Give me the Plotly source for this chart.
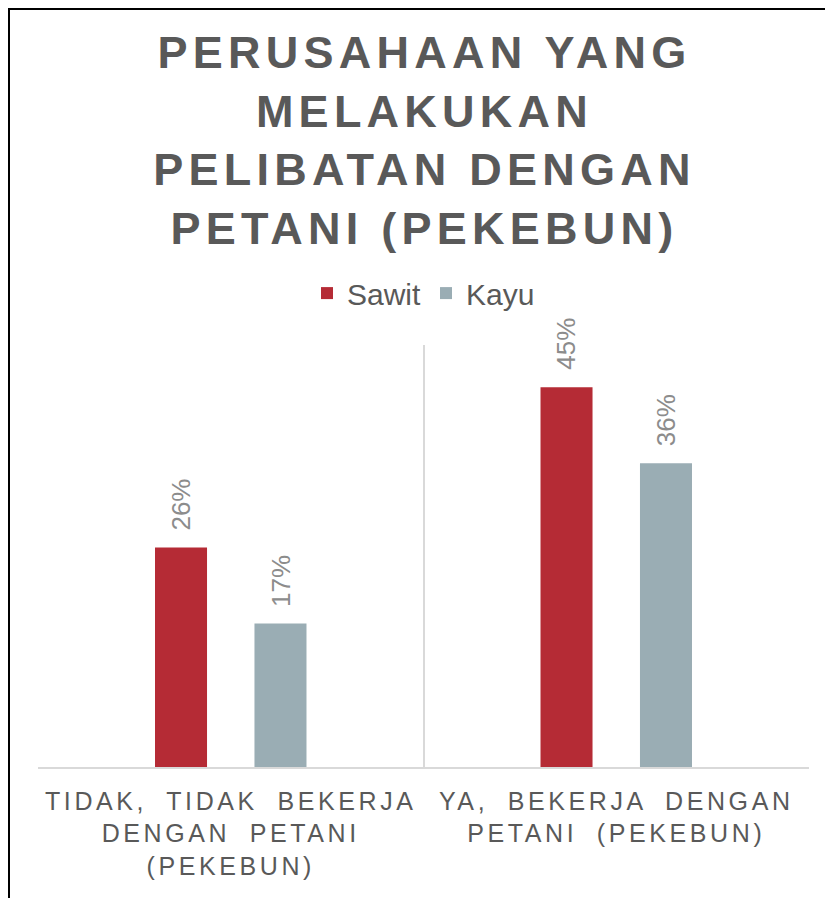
import plotly.graph_objects as go

categories = ["TIDAK, TIDAK BEKERJA DENGAN PETANI (PEKEBUN)",
              "YA, BEKERJA DENGAN PETANI (PEKEBUN)"]
tick_lines = [["TIDAK, TIDAK BEKERJA", "DENGAN PETANI", "(PEKEBUN)"],
              ["YA, BEKERJA DENGAN", "PETANI (PEKEBUN)"]]
series_names = ["Sawit", "Kayu"]
sawit = [0.26, 0.45]
kayu = [0.17, 0.36]
colors = ["#B52B35", "#9AADB4"]
title_lines = ["PERUSAHAAN YANG", "MELAKUKAN", "PELIBATAN DENGAN", "PETANI (PEKEBUN)"]

W, H = 833, 898
L, R, T, B = 30, 32, 337, 139
BARGAP, GROUPGAP = 0.484, 0.477
PW = W - L - R

def spaced(s, ls, ws=0):
    return f"<span style='letter-spacing:{ls}px;word-spacing:{ws}px'>{s}</span>"

fig = go.Figure()
for name, vals, col in zip(series_names, [sawit, kayu], colors):
    fig.add_trace(go.Bar(
        name=name, x=categories, y=vals, marker_color=col,
        marker_line_width=0,
    ))

# value labels, placed above each bar through the data coordinates
slot = PW / len(categories) * (1 - BARGAP) / 2
annotations = []
for i, vals in enumerate([sawit, kayu]):
    shift = (i - 0.5) * slot
    for c, v in zip(categories, vals):
        annotations.append(dict(
            x=c, y=v, xref="x", yref="y", text=f"{v:.0%}", showarrow=False,
            textangle=-90, xanchor="center", yanchor="bottom",
            xshift=shift, yshift=15,
            font=dict(size=26, color="#8C8C8C", family="Liberation Sans, Arial"),
        ))

ticktext = ["<br>".join(spaced(l, 3.6, 9) for l in lines) for lines in tick_lines]

fig.update_layout(
    width=W, height=H,
    margin=dict(l=L, r=R, t=T, b=B),
    paper_bgcolor="white", plot_bgcolor="white",
    barmode="group", bargap=BARGAP, bargroupgap=GROUPGAP,
    font=dict(family="Liberation Sans, Arial", color="#595959"),
    title=dict(
        text="<br>".join(spaced(l, 5.25) for l in title_lines),
        font=dict(size=45, color="#595959", weight="bold"),
        x=0.5, xanchor="center", xref="container",
        y=1 - 60 / H, yanchor="top", yref="container",
    ),
    legend=dict(orientation="h", x=0.5, xanchor="center", y=1.123, yanchor="middle",
                font=dict(size=30, color="#595959"), itemwidth=30,
                traceorder="normal"),
    annotations=annotations,
    xaxis=dict(tickmode="array", tickvals=categories, ticktext=ticktext,
               tickson="boundaries", showgrid=True, gridcolor="#D9D9D9", gridwidth=1.5,
               showline=True, linecolor="#D9D9D9", linewidth=1.5, ticks="",
               ticklabelstandoff=11,
               tickfont=dict(size=25, color="#595959")),
    yaxis=dict(range=[0, 0.5], showgrid=False, showticklabels=False, zeroline=False),
    shapes=[dict(type="rect", xref="paper", yref="paper",
                 x0=(1 - L) / PW, x1=(W + 20 - L) / PW,
                 y0=-(B + 20) / (H - T - B), y1=(H - B - 1) / (H - T - B),
                 line=dict(color="black", width=2), fillcolor="rgba(0,0,0,0)",
                 layer="below")],
)

fig.write_html("out.html")
